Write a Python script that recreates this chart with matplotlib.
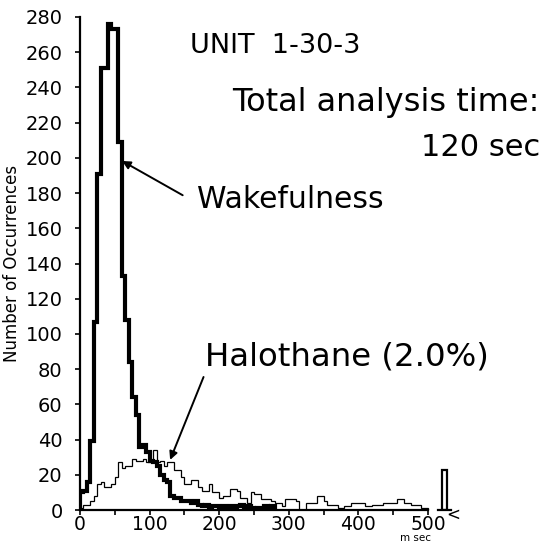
import numpy as np
import matplotlib
matplotlib.use("Agg")
import matplotlib.pyplot as plt

# ---- data (5 ms bins, 0-500 ms) ----
bin_width_ms = 5
wake_counts = [10, 11, 16, 39, 107, 191, 251, 251, 276, 273, 273, 209,
               133, 108, 84, 64, 54, 36, 37, 33, 28, 27, 25, 20,
               17, 16, 8, 7, 7, 5, 5, 5, 4, 5, 3, 2,
               3, 1, 2, 2, 1, 2, 1, 2, 1, 2, 3, 1,
               2, 1, 0, 1, 0, 2, 1, 2]
halo_counts = [1, 3, 3, 5, 8, 15, 16, 13, 13, 15, 19, 27,
               24, 25, 25, 29, 28, 28, 29, 27, 27, 34, 27, 28,
               25, 27, 27, 23, 23, 19, 15, 15, 17, 17, 13, 11,
               11, 15, 10, 10, 7, 8, 8, 12, 12, 11, 7, 7,
               4, 10, 9, 9, 6, 6, 6, 5, 4, 4, 2, 6,
               6, 6, 5, 0, 0, 4, 4, 4, 8, 8, 5, 3,
               3, 3, 1, 1, 2, 2, 4, 4, 4, 4, 2, 2,
               3, 3, 3, 4, 4, 4, 4, 6, 6, 4, 4, 3,
               3, 3, 1, 1]
over500_label = ">500"
over500_count = 23
y_ticks = list(range(0, 281, 20))
x_ticks = [0, 100, 200, 300, 400, 500]

W, H = 546, 542
fig = plt.figure(figsize=(W / 100, H / 100), dpi=100)

def fx(px):
    return px / W

def fy(py):
    return 1 - py / H

ax_left, ax_right, ax_top, ax_bot = 80, 546, 17, 510
ax = fig.add_axes([fx(ax_left), fy(ax_bot), fx(ax_right) - fx(ax_left), fy(ax_top) - fy(ax_bot)])
px_per_ms = (428 - 80) / 500
ax.set_xlim(0, (ax_right - ax_left) / px_per_ms)
ax.set_ylim(0, 280)

halo_edges = np.arange(len(halo_counts) + 1) * bin_width_ms
wake_edges = np.arange(len(wake_counts) + 1) * bin_width_ms
ax.stairs(halo_counts, halo_edges, baseline=0, color="black", lw=0.9, zorder=2)
ax.stairs(wake_counts, wake_edges, baseline=0, color="black", lw=3.0, zorder=3)

# >500 ms bin
ax.bar([524], [over500_count], width=7, fill=False, edgecolor="black", lw=1.6, zorder=3)
ax.plot([514, 533], [0, 0], color="black", lw=1.6, clip_on=False, zorder=3)

for s in ["top", "right"]:
    ax.spines[s].set_visible(False)
ax.spines["left"].set_linewidth(1.6)
ax.spines["bottom"].set_linewidth(1.6)
ax.spines["bottom"].set_bounds(0, 500)
ax.spines["left"].set_bounds(0, 280)

ax.set_yticks(y_ticks)
ax.set_yticklabels([str(v) for v in y_ticks])
ax.set_xticks(x_ticks)
ax.set_xticklabels([str(v) for v in x_ticks])
ax.set_xticks(np.arange(50, 500, 100), minor=True)
ax.tick_params(axis="both", which="both", direction="out", length=3.5, width=1.2)
ax.tick_params(axis="y", pad=9, labelsize=14)
ax.tick_params(axis="x", pad=0, labelsize=13.5)
ax.set_ylabel("Number of Occurrences", fontsize=12, labelpad=3)

fig.text(fx(453), fy(515), "<", fontsize=12, ha="center", va="center")
fig.text(fx(416), fy(538), "m sec", fontsize=7.5, ha="center", va="center")

fig.text(fx(190), fy(46), "UNIT  1-30-3", fontsize=19.5, ha="left", va="center")
fig.text(fx(540), fy(102), "Total analysis time:", fontsize=23, ha="right", va="center")
fig.text(fx(540), fy(147), "120 sec", fontsize=22, ha="right", va="center")
fig.text(fx(197), fy(200), "Wakefulness", fontsize=21.5, ha="left", va="center")
fig.text(fx(205), fy(357), "Halothane (2.0%)", fontsize=23.3, ha="left", va="center")

ax.annotate("", xy=(57, 199), xytext=(151, 178),
            arrowprops=dict(arrowstyle="-|>", color="black", lw=1.4, mutation_scale=12))
ax.annotate("", xy=(128, 27), xytext=(179, 77),
            arrowprops=dict(arrowstyle="-|>", color="black", lw=1.4, mutation_scale=12))

fig.savefig("out.png", dpi=100)
